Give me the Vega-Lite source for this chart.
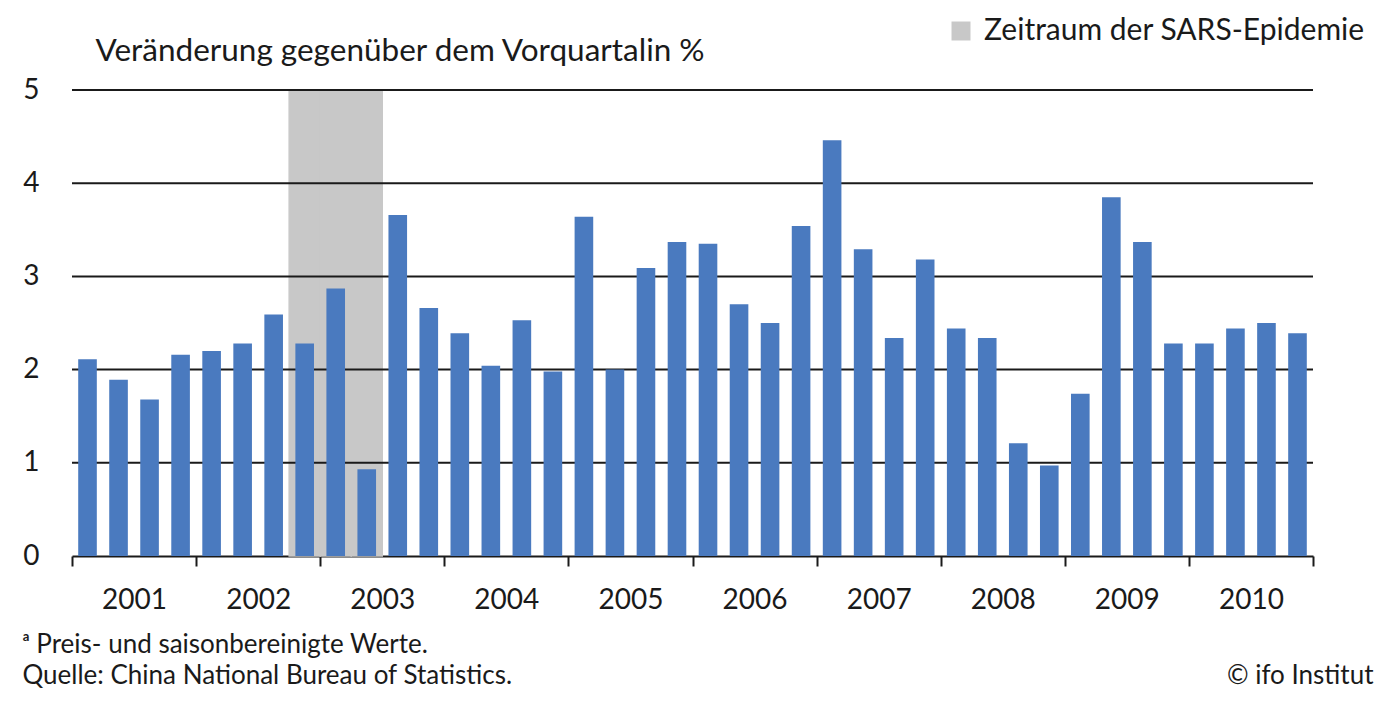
{
  "$schema": "https://vega.github.io/schema/vega-lite/v6.json",
  "width": 1241,
  "height": 466,
  "autosize": {"type": "none"},
  "padding": {"left": 72, "top": 90, "right": 87, "bottom": 164},
  "background": "white",
  "config": {
    "font": "Lato",
    "view": {"stroke": null},
    "axis": {"labelColor": "#1a1a1a", "titleColor": "#1a1a1a", "titleFontWeight": "normal"}
  },
  "datasets": {
    "growth": [
      {"year": 2001, "quarter": 1, "value": 2.11},
      {"year": 2001, "quarter": 2, "value": 1.89},
      {"year": 2001, "quarter": 3, "value": 1.68},
      {"year": 2001, "quarter": 4, "value": 2.16},
      {"year": 2002, "quarter": 1, "value": 2.2},
      {"year": 2002, "quarter": 2, "value": 2.28},
      {"year": 2002, "quarter": 3, "value": 2.59},
      {"year": 2002, "quarter": 4, "value": 2.28},
      {"year": 2003, "quarter": 1, "value": 2.87},
      {"year": 2003, "quarter": 2, "value": 0.93},
      {"year": 2003, "quarter": 3, "value": 3.66},
      {"year": 2003, "quarter": 4, "value": 2.66},
      {"year": 2004, "quarter": 1, "value": 2.39},
      {"year": 2004, "quarter": 2, "value": 2.04},
      {"year": 2004, "quarter": 3, "value": 2.53},
      {"year": 2004, "quarter": 4, "value": 1.98},
      {"year": 2005, "quarter": 1, "value": 3.64},
      {"year": 2005, "quarter": 2, "value": 2.0},
      {"year": 2005, "quarter": 3, "value": 3.09},
      {"year": 2005, "quarter": 4, "value": 3.37},
      {"year": 2006, "quarter": 1, "value": 3.35},
      {"year": 2006, "quarter": 2, "value": 2.7},
      {"year": 2006, "quarter": 3, "value": 2.5},
      {"year": 2006, "quarter": 4, "value": 3.54},
      {"year": 2007, "quarter": 1, "value": 4.46},
      {"year": 2007, "quarter": 2, "value": 3.29},
      {"year": 2007, "quarter": 3, "value": 2.34},
      {"year": 2007, "quarter": 4, "value": 3.18},
      {"year": 2008, "quarter": 1, "value": 2.44},
      {"year": 2008, "quarter": 2, "value": 2.34},
      {"year": 2008, "quarter": 3, "value": 1.21},
      {"year": 2008, "quarter": 4, "value": 0.97},
      {"year": 2009, "quarter": 1, "value": 1.74},
      {"year": 2009, "quarter": 2, "value": 3.85},
      {"year": 2009, "quarter": 3, "value": 3.37},
      {"year": 2009, "quarter": 4, "value": 2.28},
      {"year": 2010, "quarter": 1, "value": 2.28},
      {"year": 2010, "quarter": 2, "value": 2.44},
      {"year": 2010, "quarter": 3, "value": 2.5},
      {"year": 2010, "quarter": 4, "value": 2.39}
    ],
    "sars": [
      {"year": 2002, "quarter": 4, "label": "Zeitraum der SARS-Epidemie"},
      {"year": 2003, "quarter": 1, "label": "Zeitraum der SARS-Epidemie"},
      {"year": 2003, "quarter": 2, "label": "Zeitraum der SARS-Epidemie"}
    ],
    "grid": [{"v": 1}, {"v": 2}, {"v": 3}, {"v": 4}, {"v": 5}]
  },
  "layer": [
    {
      "data": {"name": "sars"},
      "mark": {"type": "bar", "stroke": "#c8c8c8", "strokeWidth": 1.5},
      "encoding": {
        "x": {
          "field": "year",
          "type": "ordinal",
          "scale": {"domain": [2001, 2002, 2003, 2004, 2005, 2006, 2007, 2008, 2009, 2010], "paddingInner": 0, "paddingOuter": 0},
          "axis": {
            "orient": "bottom",
            "tickBand": "extent",
            "labelAngle": 0,
            "labelFontSize": 28,
            "labelPadding": 20,
            "labelBaseline": "top",
            "ticks": true,
            "tickSize": 10,
            "tickWidth": 2,
            "tickColor": "#1a1a1a",
            "domainColor": "#1a1a1a",
            "domainWidth": 2,
            "title": ["ᵃ Preis- und saisonbereinigte Werte.", "Quelle: China National Bureau of Statistics."],
            "titleFontSize": 26,
            "titleAlign": "left",
            "titleBaseline": "alphabetic",
            "titleLineHeight": 31.5,
            "titleX": -50,
            "titleY": 96
          }
        },
        "xOffset": {"field": "quarter", "type": "ordinal", "scale": {"domain": [1, 2, 3, 4], "paddingInner": 0, "paddingOuter": 0}},
        "y": {"datum": 5, "type": "quantitative"},
        "color": {
          "field": "label",
          "type": "nominal",
          "scale": {"range": ["#c8c8c8"]},
          "legend": {
            "title": null,
            "orient": "none",
            "legendX": 874,
            "legendY": -74,
            "symbolType": "square",
            "symbolSize": 361,
            "symbolStrokeWidth": 0,
            "labelFontSize": 30,
            "labelColor": "#1a1a1a",
            "labelOffset": 8,
            "labelLimit": 600
          }
        }
      }
    },
    {
      "data": {"name": "grid"},
      "mark": {"type": "rule", "color": "#1a1a1a", "strokeWidth": 2},
      "encoding": {"y": {"field": "v", "type": "quantitative"}}
    },
    {
      "data": {"name": "growth"},
      "mark": {"type": "bar", "color": "#4a7abf"},
      "encoding": {
        "x": {
          "field": "year",
          "type": "ordinal",
          "axis": {
            "orient": "bottom",
            "labels": false,
            "ticks": false,
            "domain": false,
            "title": "© ifo Institut",
            "titleFontSize": 26,
            "titleAlign": "right",
            "titleBaseline": "alphabetic",
            "titleX": 1301,
            "titleY": 127.5
          }
        },
        "xOffset": {"field": "quarter", "type": "ordinal", "scale": {"paddingInner": 0.4, "paddingOuter": 0.2}},
        "y": {
          "field": "value",
          "type": "quantitative",
          "scale": {"domain": [0, 5]},
          "axis": {
            "values": [0, 1, 2, 3, 4, 5],
            "format": "d",
            "grid": false,
            "domain": false,
            "ticks": false,
            "labelFontSize": 28,
            "labelPadding": 33,
            "title": "Veränderung gegenüber dem Vorquartalin %",
            "titleFontSize": 31.5,
            "titleAngle": 0,
            "titleAlign": "left",
            "titleBaseline": "alphabetic",
            "titleX": 23,
            "titleY": -30
          }
        }
      }
    }
  ],
  "resolve": {"axis": {"x": "independent"}, "scale": {"xOffset": "independent"}}
}
